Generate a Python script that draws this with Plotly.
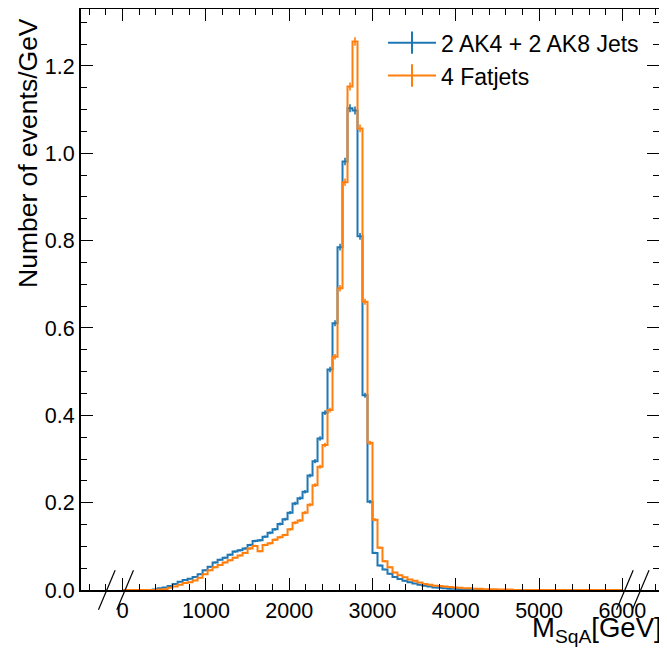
import numpy as np
import plotly.graph_objects as go

# ---- data -------------------------------------------------------------
BIN_START = 0
BIN_WIDTH = 60
N_BINS = 100
bin_edges = [BIN_START + BIN_WIDTH * i for i in range(N_BINS + 1)]
bin_centers = [BIN_START + BIN_WIDTH * (i + 0.5) for i in range(N_BINS)]

ak4_ak8_vals = [
    0, 0, 0, 0, 0, 0, 0.001,
    0.004, 0.006, 0.009, 0.014, 0.019, 0.023, 0.026, 0.030, 0.036,
    0.045, 0.053, 0.063, 0.069, 0.074, 0.081, 0.088, 0.091, 0.095, 0.103,
    0.112, 0.114, 0.122, 0.131, 0.139, 0.151, 0.162, 0.177, 0.198, 0.210,
    0.225, 0.262, 0.295, 0.347, 0.406, 0.505, 0.611, 0.785, 0.981, 1.103,
    1.098, 0.810, 0.446, 0.202, 0.085, 0.056, 0.047, 0.037, 0.030, 0.025,
    0.021, 0.018, 0.015, 0.012, 0.010, 0.008, 0.006, 0.005, 0.004, 0.003,
    0.003, 0.002, 0.002, 0.001, 0.001, 0.001, 0, 0, 0, 0,
    0, 0, 0, 0, 0, 0, 0, 0, 0, 0, 0, 0,
    0, 0, 0, 0, 0, 0, 0, 0, 0, 0, 0, 0,
]

fatjet_vals = [
    0, 0, 0, 0, 0, 0, 0, 0.001,
    0.002, 0.005, 0.008, 0.012, 0.016, 0.018, 0.022, 0.028,
    0.036, 0.045, 0.052, 0.057, 0.063, 0.068, 0.074, 0.079, 0.085, 0.095,
    0.101, 0.089, 0.103, 0.107, 0.115, 0.121, 0.126, 0.139, 0.154, 0.159,
    0.177, 0.195, 0.240, 0.282, 0.332, 0.412, 0.534, 0.691, 0.934, 1.153,
    1.256, 1.057, 0.660, 0.337, 0.161, 0.097, 0.066, 0.052, 0.040, 0.034,
    0.029, 0.024, 0.021, 0.017, 0.014, 0.012, 0.010, 0.009, 0.008, 0.007,
    0.006, 0.005, 0.004, 0.004, 0.003, 0.003, 0.002, 0.002, 0.002, 0.001,
    0.001, 0.001,
    0, 0, 0, 0, 0, 0, 0, 0, 0, 0, 0,
    0, 0, 0, 0, 0, 0, 0, 0, 0, 0, 0,
]

series_names = ["2 AK4 + 2 AK8 Jets", "4 Fatjets"]
series_vals = [ak4_ak8_vals, fatjet_vals]
series_colors = ["#1f77b4", "#ff7f0e"]

x_tick_vals = [0, 1000, 2000, 3000, 4000, 5000, 6000]
x_tick_text = ["0", "1000", "2000", "3000", "4000", "5000", "6000"]
y_tick_vals = [0.0, 0.2, 0.4, 0.6, 0.8, 1.0, 1.2]
y_tick_text = ["0.0", "0.2", "0.4", "0.6", "0.8", "1.0", "1.2"]

X_RANGE = [-500, 6440]
Y_RANGE = [0, 1.3305]

FONT = "Liberation Sans, Arial, Helvetica, sans-serif"

# ---- figure -----------------------------------------------------------
fig = go.Figure()

for name, vals, color in zip(series_names, series_vals, series_colors):
    fig.add_trace(go.Scatter(
        x=bin_edges, y=list(vals) + [vals[-1]],
        mode="lines", line=dict(shape="hv", color=color, width=2),
        showlegend=False, hoverinfo="skip"))
    xs = [c for c, v in zip(bin_centers, vals) if v > 0]
    ys = [v for v in vals if v > 0]
    errs = [0.0095 * np.sqrt(v / 1.2) for v in ys]
    fig.add_trace(go.Scatter(
        x=xs, y=ys, mode="markers",
        marker=dict(size=1, color=color),
        error_y=dict(type="data", array=errs, width=0, thickness=1.6, color=color),
        showlegend=False, hoverinfo="skip"))

for name, color in zip(series_names, series_colors):
    fig.add_trace(go.Scatter(
        x=[None], y=[None], mode="lines+markers", name=name,
        line=dict(color=color, width=2),
        marker=dict(symbol="line-ns", size=18, color=color,
                    line=dict(width=2, color=color))))

# axis-break markers "//"
for xc in [-190, 30, 6030, 6220]:
    fig.add_shape(type="line", xref="x", yref="paper",
                  x0=xc - 100, x1=xc + 100, y0=-0.034, y1=0.034,
                  line=dict(color="black", width=1.2), layer="above")

fig.update_layout(
    width=659, height=642,
    margin=dict(l=73, r=8, t=1, b=60, autoexpand=False),
    paper_bgcolor="white", plot_bgcolor="white",
    font=dict(family=FONT, color="black", size=21),
    showlegend=True,
    legend=dict(x=0.5225, y=0.979, xanchor="left", yanchor="top",
                bgcolor="rgba(0,0,0,0)", font=dict(size=23),
                itemwidth=48, tracegroupgap=0),
)

fig.update_xaxes(
    range=X_RANGE, tickvals=x_tick_vals, ticktext=x_tick_text,
    ticks="inside", ticklen=12, tickwidth=1.2, tickcolor="black",
    showline=True, linewidth=2, linecolor="black", mirror="allticks",
    showgrid=False, zeroline=False, tickfont=dict(size=21.5), automargin=False,
    minor=dict(dtick=200, tick0=0, ticks="inside", ticklen=6, tickwidth=1, tickcolor="black"),
)
fig.update_yaxes(
    range=Y_RANGE, tickvals=y_tick_vals, ticktext=y_tick_text,
    ticks="inside", ticklen=12, tickwidth=1.2, tickcolor="black",
    showline=True, linewidth=2, linecolor="black", mirror="allticks",
    showgrid=False, zeroline=False, tickfont=dict(size=21.5), automargin=False,
    minor=dict(dtick=0.05, tick0=0, ticks="inside", ticklen=6, tickwidth=1, tickcolor="black"),
)

fig.add_annotation(text="Number of events/GeV", xref="paper", yref="paper",
                   x=0, y=1, xshift=-53, yshift=-7, xanchor="center", yanchor="top",
                   textangle=-90, showarrow=False, font=dict(size=26.5))
fig.add_annotation(text="M<sub>SqA</sub>[GeV]", xref="paper", yref="paper",
                   x=0.777, y=0, yshift=-39, xanchor="left", yanchor="middle",
                   showarrow=False, font=dict(size=27.5))

fig.write_html("out.html")
